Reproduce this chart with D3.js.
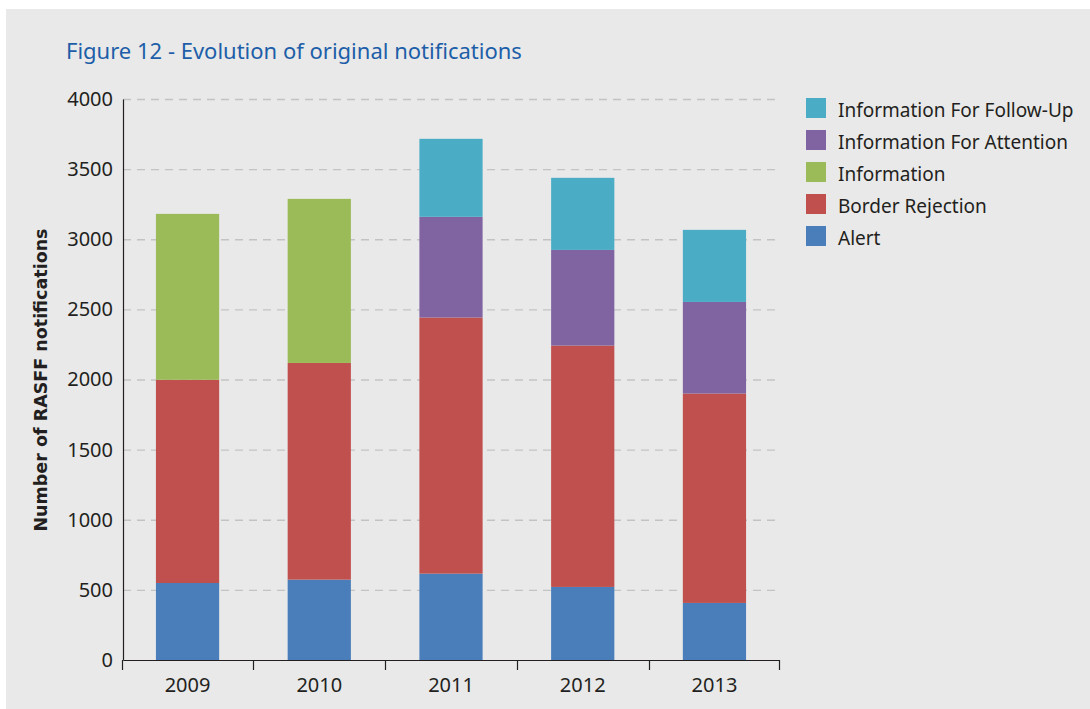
<!DOCTYPE html>
<html>
  <head>
    <title>Evolution of original notifications</title>
    <script type="text/javascript" src="https://cdn.jsdelivr.net/npm/d3@7"></script>
    <style type="text/css">
      body {
        margin: 0;
        background: #fff;
      }
      text {
        font-family: "Noto Sans", sans-serif;
        fill: #231f20;
      }
    </style>
  </head>
  <body>
  </body>
  <script type="text/javascript">

  var years = ['2009', '2010', '2011', '2012', '2013']
  var seriesNames = ['Alert', 'Border Rejection', 'Information', 'Information For Attention', 'Information For Follow-Up']
  var seriesColors = ['#4a7ebb', '#c0504d', '#9bbb59', '#8064a2', '#4bacc6']

  var alert = [549, 573, 616, 521, 407]
  var borderRejection = [1449, 1545, 1826, 1721, 1493]
  var information = [1183, 1170, 0, 0, 0]
  var infoAttention = [0, 0, 718, 682, 653]
  var infoFollowUp = [0, 0, 556, 514, 514]

  var yTicks = [0, 500, 1000, 1500, 2000, 2500, 3000, 3500, 4000]

  var W = 1090, H = 709
  var svg = d3.select('body')
    .append('svg')
      .attr('width', W)
      .attr('height', H)

  svg.append('rect')
    .attr('x', 6).attr('y', 9)
    .attr('width', W - 6).attr('height', H - 9)
    .attr('fill', '#e9e9e9')

  svg.append('text')
    .attr('x', 66).attr('y', 59)
    .style('font-size', '22px')
    .style('fill', '#1d5ea8')
    .text('Figure 12 - Evolution of original notifications')

  var x = d3.scaleBand().domain(years).range([123, 779]).paddingInner(0.52).paddingOuter(0.25)
  var y = d3.scaleLinear().domain([0, 4000]).range([660, 99])

  // grid
  svg.append('g').selectAll('line').data(yTicks.slice(1))
    .enter().append('line')
      .attr('x1', 123).attr('x2', 779)
      .attr('y1', function(d) { return y(d) + 0.5; })
      .attr('y2', function(d) { return y(d) + 0.5; })
      .attr('stroke', '#c3c3c3')
      .attr('stroke-width', 1.3)
      .attr('stroke-dasharray', '8,6')

  // stacked bars
  var rows = years.map(function(yr, i) {
    return {year: yr, 'Alert': alert[i], 'Border Rejection': borderRejection[i], 'Information': information[i],
      'Information For Attention': infoAttention[i], 'Information For Follow-Up': infoFollowUp[i]}
  })
  var stacked = d3.stack().keys(seriesNames)(rows)

  svg.append('g').selectAll('g').data(stacked)
    .enter().append('g')
      .attr('fill', function(d, i) { return seriesColors[i]; })
    .selectAll('rect').data(function(d) { return d; })
    .enter().append('rect')
      .attr('x', function(d) { return x(d.data.year); })
      .attr('width', x.bandwidth())
      .attr('y', function(d) { return y(d[1]); })
      .attr('height', function(d) { return y(d[0]) - y(d[1]); })

  // y axis
  var yAxis = svg.append('g')
    .attr('transform', 'translate(123,0)')
    .call(d3.axisLeft(y).tickValues(yTicks).tickFormat(d3.format('d')).tickSize(0).tickPadding(10))
  yAxis.select('.domain').attr('stroke', '#231f20').attr('stroke-width', 1.2)
  yAxis.selectAll('text').style('font-size', '20px').style('font-family', '"Noto Sans", sans-serif').attr('fill', '#231f20')

  // x axis
  var xAxis = svg.append('g')
    .attr('transform', 'translate(0,660)')
    .call(d3.axisBottom(x).tickSize(0).tickPadding(18))
  xAxis.select('.domain').attr('stroke', '#231f20').attr('stroke-width', 1.2)
  xAxis.selectAll('text').style('font-size', '20px').style('font-family', '"Noto Sans", sans-serif').attr('fill', '#231f20')
  var bounds = years.map(function(yr) { return x(yr) - x.step() * x.paddingInner() / 2; })
  bounds.push(779)
  xAxis.selectAll('.sep').data(bounds)
    .enter().append('line')
      .attr('x1', function(d) { return Math.round(d) + 0.5; })
      .attr('x2', function(d) { return Math.round(d) + 0.5; })
      .attr('y1', 0).attr('y2', 10)
      .attr('stroke', '#231f20').attr('stroke-width', 1.2)

  svg.append('text')
    .attr('transform', 'translate(47,380) rotate(-90)')
    .attr('text-anchor', 'middle')
    .style('font-family', '"DejaVu Sans", sans-serif')
    .style('font-weight', 'bold')
    .style('font-size', '17.5px')
    .text('Number of RASFF notifications')

  // legend
  var legend = svg.append('g').selectAll('g').data(seriesNames.slice().reverse())
    .enter().append('g')
      .attr('transform', function(d, i) { return 'translate(806,' + (98 + i * 32) + ')'; })
  legend.append('rect')
    .attr('width', 20).attr('height', 20)
    .attr('fill', function(d) { return seriesColors[seriesNames.indexOf(d)]; })
  legend.append('text')
    .attr('x', 32).attr('y', 18.5)
    .style('font-size', '19px')
    .text(function(d) { return d; })

  </script>
</html>
